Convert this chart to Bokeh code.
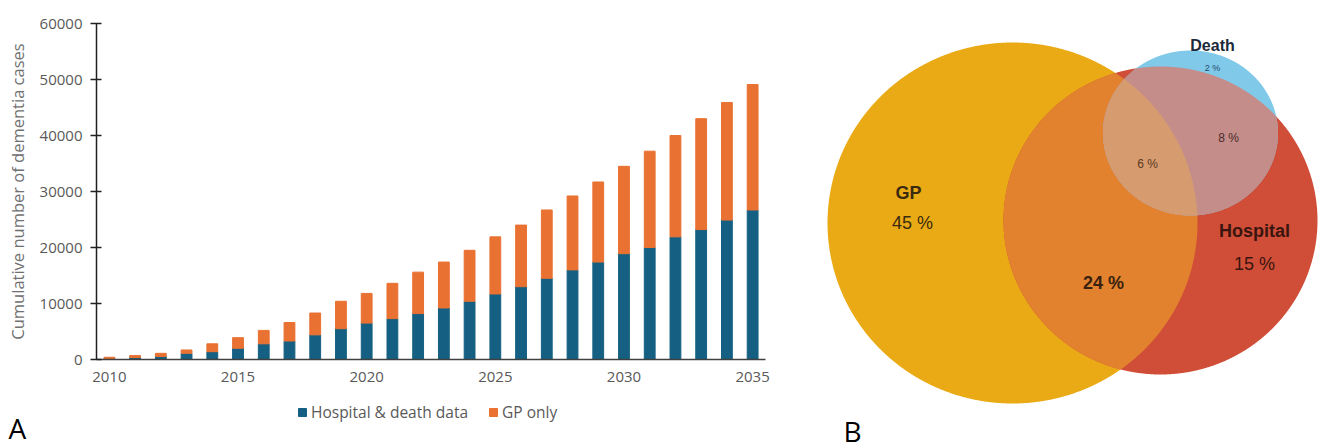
import numpy as np
from bokeh.plotting import figure
from bokeh.models import Range1d, FixedTicker, Legend, LegendItem, ColumnDataSource
from bokeh.layouts import row, column
from bokeh.embed import file_html
from bokeh.resources import INLINE
from bokeh.core.properties import value

# ---------------- data ----------------
years = list(range(2010, 2036))
hospital_death = [200, 350, 550, 1100, 1400, 2000, 2800, 3300, 4400, 5500, 6500, 7300, 8200,
                  9200, 10400, 11700, 13000, 14500, 16000, 17400, 18900, 20000, 21900, 23200,
                  24900, 26700]
gp_only = [200, 350, 550, 600, 1400, 1900, 2400, 3300, 3900, 4900, 5300, 6300, 7400,
           8200, 9100, 10200, 11000, 12200, 13200, 14300, 15600, 17200, 18100, 19800,
           21000, 22400]
series_names = ["Hospital & death data", "GP only"]
y_ticks = [0, 10000, 20000, 30000, 40000, 50000, 60000]
x_ticks = [2010, 2015, 2020, 2025, 2030, 2035]

venn_sets = ["GP", "Hospital", "Death"]
venn_regions = ["GP only", "GP & Hospital", "Hospital only", "Hospital & Death", "All three", "Death only"]
venn_pct = [45, 24, 15, 8, 6, 2]

# ---------------- styles ----------------
BLUE = "#156082"
ORANGE = "#E97132"
FONT = "Open Sans"

# ---------------- panel A: stacked bars ----------------
src = ColumnDataSource(dict(year=years, hosp=hospital_death, gp=gp_only))
p1 = figure(width=790, height=390, output_backend="svg", toolbar_location=None,
            x_range=Range1d(2009.5, 2035.5), y_range=Range1d(0, 60000),
            min_border_left=96, min_border_right=25, min_border_top=23, min_border_bottom=31)
p1.frame_align = False
rs = p1.vbar_stack(["hosp", "gp"], x="year", width=0.42, color=[BLUE, ORANGE], source=src)
p1.grid.visible = False
p1.outline_line_color = None

p1.xaxis.ticker = FixedTicker(ticks=x_ticks)
p1.xaxis.major_tick_line_color = None
p1.xaxis.minor_tick_line_color = None
p1.xaxis.major_tick_out = 0
p1.xaxis.major_tick_in = 0
p1.xaxis.axis_line_color = "#404040"
p1.xaxis.axis_line_width = 1.5
p1.xaxis.major_label_text_font = FONT
p1.xaxis.major_label_text_font_size = "15px"
p1.xaxis.major_label_text_color = "#595959"
p1.xaxis.major_label_standoff = 12

p1.yaxis.ticker = FixedTicker(ticks=y_ticks)
p1.yaxis.minor_tick_line_color = None
p1.yaxis.major_tick_in = 5
p1.yaxis.major_tick_out = 6
p1.yaxis.major_tick_line_width = 1.5
p1.yaxis.major_tick_line_color = "#202020"
p1.yaxis.axis_line_color = "#202020"
p1.yaxis.axis_line_width = 1.5
p1.yaxis.major_label_text_font = FONT
p1.yaxis.major_label_text_font_size = "15px"
p1.yaxis.major_label_text_color = "#595959"
p1.yaxis.major_label_standoff = 8
p1.yaxis.axis_label = "Cumulative number of dementia cases"
p1.yaxis.axis_label_text_font = FONT
p1.yaxis.axis_label_text_font_size = "16.5px"
p1.yaxis.axis_label_text_font_style = "normal"
p1.yaxis.axis_label_text_color = "#707070"
p1.yaxis.axis_label_standoff = 8

# ---------------- strip under panel A: legend + panel letter ----------------
p3 = figure(width=790, height=58, output_backend="svg", toolbar_location=None,
            x_range=Range1d(0, 790), y_range=Range1d(448, 390),
            x_axis_type=None, y_axis_type=None, min_border=0)
p3.frame_align = False
p3.grid.visible = False
p3.outline_line_color = None
nan = float("nan")
k1 = p3.vbar(x=[nan], top=[nan], width=1, color=BLUE)
k2 = p3.vbar(x=[nan], top=[nan], width=1, color=ORANGE)
legend = Legend(items=[LegendItem(label=series_names[0], renderers=[k1]),
                       LegendItem(label=series_names[1], renderers=[k2])],
                orientation="horizontal", location=(297, 25.5),
                label_text_font=FONT, label_text_font_size="15.5px", label_text_color="#595959",
                glyph_width=10, glyph_height=10, label_standoff=4, spacing=20,
                padding=3, margin=0, border_line_color=None, background_fill_alpha=0)
p3.add_layout(legend)
p3.text(x=[8], y=[427], text=["A"], text_font=value(FONT), text_font_size="28px",
        text_color="#000000", text_baseline="middle")

# ---------------- panel B: Venn diagram ----------------
p2 = figure(width=530, height=448, output_backend="svg", toolbar_location=None,
            x_range=Range1d(790, 1320), y_range=Range1d(448, 0),
            x_axis_type=None, y_axis_type=None, min_border=0)
p2.frame_align = False
p2.grid.visible = False
p2.outline_line_color = None

# layout geometry of the three sets (cx, cy, rx, ry) in panel pixel space
geom = {"GP": (1012, 222.5, 185, 180.5),
        "Hospital": (1160, 220, 157, 154),
        "Death": (1190, 132.5, 87.5, 82.5)}


def inside(name, x, y, tol=1e-9):
    cx, cy, rx, ry = geom[name]
    return ((x - cx) / rx) ** 2 + ((y - cy) / ry) ** 2 <= 1 + tol


def boundary(name, n=1440):
    cx, cy, rx, ry = geom[name]
    t = np.linspace(0, 2 * np.pi, n, endpoint=False)
    return cx + rx * np.cos(t), cy + ry * np.sin(t)


def region(names):
    xs, ys = [], []
    for nm in names:
        bx, by = boundary(nm)
        mask = np.ones_like(bx, dtype=bool)
        for other in names:
            if other != nm:
                mask &= inside(other, bx, by, 1e-6)
        xs.append(bx[mask]); ys.append(by[mask])
    xs = np.concatenate(xs); ys = np.concatenate(ys)
    mx, my = xs.mean(), ys.mean()
    order = np.argsort(np.arctan2(ys - my, xs - mx))
    return list(xs[order]), list(ys[order])


C_GP = "#EAAA15"
C_H = "#D04E37"
C_GPH = "#E2822E"
C_D = "#80C9E9"
C_DH = "#C48D8A"
C_ALL = "#D69C70"

layers = [(["GP"], C_GP), (["Hospital"], C_H), (["GP", "Hospital"], C_GPH),
          (["Death"], C_D), (["Death", "GP"], C_ALL), (["Death", "Hospital"], C_DH),
          (["Death", "GP", "Hospital"], C_ALL)]
for names, col in layers:
    if len(names) == 1:
        bx, by = boundary(names[0])
        xs, ys = list(bx), list(by)
    else:
        xs, ys = region(names)
    p2.patch(xs, ys, fill_color=col, line_color=None)

# set names
set_pos = {"GP": (908, 192), "Hospital": (1254, 230), "Death": (1212, 45)}
set_size = {"GP": "18px", "Hospital": "18px", "Death": "16px"}
set_col = {"GP": "#3a2a10", "Hospital": "#3a1510", "Death": "#1d2a3a"}
for nm in venn_sets:
    x, y = set_pos[nm]
    p2.text(x=[x], y=[y], text=[nm], text_font=value("Liberation Sans"),
            text_font_size=set_size[nm], text_font_style="bold", text_color=set_col[nm],
            text_align="center", text_baseline="middle")

# percentages
pct_pos = {"GP only": (912, 222), "GP & Hospital": (1103, 282), "Hospital only": (1254, 263),
           "Hospital & Death": (1228, 137), "All three": (1147, 163), "Death only": (1212, 67)}
pct_size = {"GP only": "18px", "GP & Hospital": "18px", "Hospital only": "18px",
            "Hospital & Death": "12px", "All three": "12px", "Death only": "9px"}
pct_style = {"GP only": "normal", "GP & Hospital": "bold", "Hospital only": "normal",
             "Hospital & Death": "normal", "All three": "normal", "Death only": "normal"}
pct_col = {"GP only": "#3a2a10", "GP & Hospital": "#3a2210", "Hospital only": "#3a1510",
           "Hospital & Death": "#4a2c28", "All three": "#5a3a20", "Death only": "#234a6a"}
for reg, pct in zip(venn_regions, venn_pct):
    x, y = pct_pos[reg]
    p2.text(x=[x], y=[y], text=[f"{pct} %"], text_font=value("Liberation Sans"),
            text_font_size=pct_size[reg], text_font_style=pct_style[reg], text_color=pct_col[reg],
            text_align="center", text_baseline="middle")

p2.text(x=[843], y=[430], text=["B"], text_font=value(FONT), text_font_size="28px",
        text_color="#000000", text_baseline="middle")

layout = row(column(p1, p3), p2)
open("out.html", "w").write(file_html(layout, INLINE))
